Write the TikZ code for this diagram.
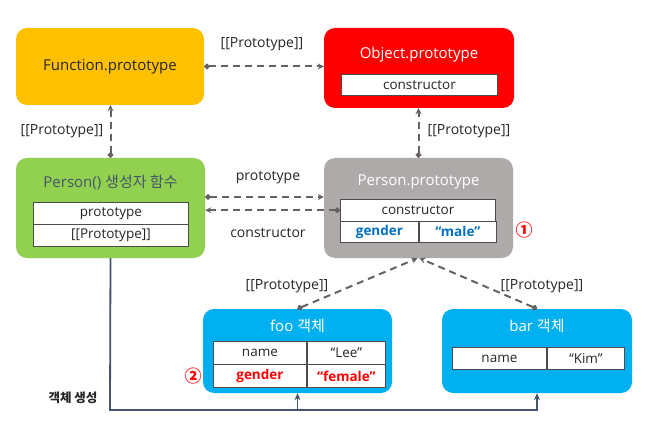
\documentclass[tikz,border=0pt]{standalone}
\usepackage{fontspec}
\setmainfont{Open Sans}
\newfontfamily\kr{Noto Sans CJK KR}
\usepackage{xcolor}
\usepackage{tikz}
\usetikzlibrary{arrows.meta,positioning}

\definecolor{fnyellow}{HTML}{FFC000}
\definecolor{objred}{HTML}{FF0000}
\definecolor{ctorgreen}{HTML}{92D050}
\definecolor{protogrey}{HTML}{AEAAAA}
\definecolor{instblue}{HTML}{00B0F0}
\definecolor{linkgrey}{HTML}{666262}
\definecolor{slate}{HTML}{44546A}
\definecolor{valblue}{HTML}{0070C0}
\definecolor{inktext}{HTML}{262626}

\begin{document}
\begin{tikzpicture}[x=1pt,y=-1pt,
  objbox/.style={rounded corners=11pt, inner sep=0pt},
  title/.style={font=\fontsize{15}{18}\selectfont},
  cell/.style={draw=black!70, line width=0.9pt, fill=white, inner sep=0pt,
    anchor=north west, minimum height=21.5pt, text=inktext,
    font=\fontsize{13.5}{16}\selectfont},
  boldcell/.style={cell, font=\bfseries\fontsize{13.5}{16}\selectfont},
  lbl/.style={text=inktext, font=\fontsize{14}{17}\selectfont},
  link/.style={draw=linkgrey, line width=2pt, dash pattern=on 7pt off 5pt,
    {Circle[length=5.5pt]}-{Stealth[length=6pt,width=6pt]}},
  create/.style={draw=slate, line width=1.8pt, -{Stealth[length=7pt,width=6pt]}},
  circnum/.style={text=objred, font=\kr\bfseries\fontsize{17}{19}\selectfont}]
\useasboundingbox (0,0) rectangle (656,433);

% boxes
\node[objbox, fill=fnyellow, minimum width=188pt, minimum height=77pt] (fp) at (110,66.5) {};
\node[objbox, fill=objred, minimum width=190pt, minimum height=80pt] (op) at (419,68) {};
\node[objbox, fill=ctorgreen, minimum width=189pt, minimum height=100pt] (pf) at (110.5,208) {};
\node[objbox, fill=protogrey, minimum width=189pt, minimum height=100pt] (pp) at (418.5,208) {};
\node[objbox, fill=instblue, minimum width=189pt, minimum height=84pt] (foo) at (297.5,351) {};
\node[objbox, fill=instblue, minimum width=190pt, minimum height=84pt] (bar) at (537,351) {};

% titles
\node[title, text=inktext] (fpt) at (110,67) {Function.prototype};
\node[title, text=white] (opt) at (419,55) {Object.prototype};
\node[title, text=slate] (pft) at (110.5,182) {Person() {\kr 생성자 함수}};
\node[title, text=white] (ppt) at (418.5,182) {Person.prototype};
\node[title, text=white] (foot) at (297.5,326) {foo {\kr 객체}};
\node[title, text=white] (bart) at (537,326) {bar {\kr 객체}};

% tables
\node[cell, minimum width=156pt, minimum height=21pt] (opa) at (341,74) {constructor};

\node[cell, minimum width=155pt] (pfa) at (33,202) {prototype};
\node[cell, minimum width=155pt, below=0pt of pfa] (pfb) {[[Prototype]]};

\node[cell, minimum width=155pt] (ppa) at (340,199) {constructor};
\node[boldcell, minimum width=78pt, text=valblue] (ppb) at (340,220.5) {gender};
\node[boldcell, minimum width=77pt, text=valblue, right=0pt of ppb] (ppc) {“male”};

\node[cell, minimum width=93pt, minimum height=22.5pt] (fooa) at (213,341) {name};
\node[cell, minimum width=78pt, minimum height=22.5pt, right=0pt of fooa] (foob) {“Lee”};
\node[boldcell, minimum width=93pt, minimum height=22.5pt, text=objred, below=0pt of fooa] (fooc) {gender};
\node[boldcell, minimum width=78pt, minimum height=22.5pt, text=objred, right=0pt of fooc] (food) {“female”};

\node[cell, minimum width=94pt, minimum height=22pt] (bara) at (452,347) {name};
\node[cell, minimum width=77pt, minimum height=22pt, right=0pt of bara] (barb) {“Kim”};

% markers
\node[circnum] (one) at (524,230) {①};
\node[circnum] (two) at (193,376) {②};

% [[Prototype]] links
\draw[link] (fp.east) -- (fp.east -| op.west);
\draw[link] (pf.north) -- (pf.north |- fp.south);
\draw[link] (pp.north) -- (pp.north |- op.south);
\draw[link] ([yshift=11pt]pf.east) -- ([yshift=11pt]pf.east -| pp.west);
\draw[link] (ppa.west) -- (ppa.west -| pf.east);
\draw[link] (foo.north) -- ([xshift=-1pt]pp.south);
\draw[link] (bar.north) -- ([xshift=1pt]pp.south);

\node[lbl] (l1) at (262,44) {[[Prototype]]};
\node[lbl] (l2) at (62,131) {[[Prototype]]};
\node[lbl] (l3) at (469,131) {[[Prototype]]};
\node[lbl] (l4) at (268,178) {prototype};
\node[lbl] (l5) at (268,233) {constructor};
\node[lbl] (l6) at (287,286) {[[Prototype]]};
\node[lbl] (l7) at (542,286) {[[Prototype]]};

% object creation
\coordinate (turn) at (110,410);
\draw[create] (pf.south) -- (turn) -| (bar.south);
\draw[create] (foo.south |- turn) -- (foo.south);
\node[lbl, font=\kr\bfseries\fontsize{12.5}{15}\selectfont] (mk) at (73,398) {객체 생성};
\end{tikzpicture}
\end{document}
